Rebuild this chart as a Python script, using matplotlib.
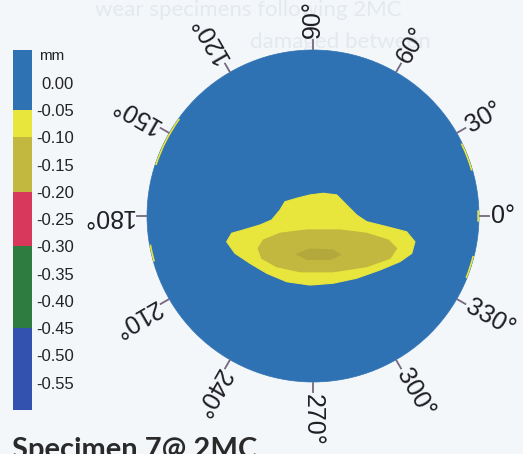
import numpy as np
import matplotlib
matplotlib.use("Agg")
import matplotlib.pyplot as plt
from matplotlib.patches import Circle, Polygon, Wedge
from matplotlib.colors import ListedColormap, BoundaryNorm
from matplotlib.cm import ScalarMappable

# ---- depth scale (mm) ----
level_bounds = [-0.60, -0.45, -0.30, -0.20, -0.10, -0.05, 0.06]
level_colors = ["#3351ae", "#2f7c40", "#d7385c", "#c3b83f", "#e8e53d", "#2f72b3"]
tick_values = [0.00, -0.05, -0.10, -0.15, -0.20, -0.25, -0.30,
               -0.35, -0.40, -0.45, -0.50, -0.55]
tick_labels = ["0.00", "-0.05", "-0.10", "-0.15", "-0.20", "-0.25", "-0.30",
               "-0.35", "-0.40", "-0.45", "-0.50", "-0.55"]

# ---- angular positions around the specimen (deg) ----
angles = [0, 30, 60, 90, 120, 150, 180, 210, 240, 270, 300, 330]

# ---- wear-scar outlines, x / y in specimen radii ----
# -0.05 mm contour
scar_x = [-0.520, -0.490, -0.420, -0.319, -0.249, -0.199, -0.169, -0.098,
          -0.018, 0.062, 0.143, 0.203, 0.263, 0.323, 0.444, 0.564, 0.614,
          0.595, 0.524, 0.404, 0.263, 0.122, -0.018, -0.158, -0.279,
          -0.380, -0.470]
scar_y = [-0.155, -0.104, -0.084, -0.054, -0.024, 0.036, 0.086, 0.107,
          0.127, 0.137, 0.127, 0.066, 0.006, -0.034, -0.064, -0.095, -0.155,
          -0.225, -0.275, -0.325, -0.375, -0.405, -0.416, -0.396, -0.345,
          -0.285, -0.225]
scar_depth = -0.07

# -0.10 mm contour
core_x = [-0.330, -0.299, -0.199, -0.038, 0.163, 0.323, 0.454, 0.504,
          0.464, 0.323, 0.122, -0.078, -0.219, -0.309]
core_y = [-0.195, -0.145, -0.104, -0.084, -0.084, -0.104, -0.145, -0.195,
          -0.255, -0.305, -0.336, -0.336, -0.305, -0.255]
core_depth = -0.15

# deepest spot inside the core
deep_x = [-0.108, -0.018, 0.122, 0.173, 0.102, -0.038]
deep_y = [-0.229, -0.195, -0.201, -0.235, -0.265, -0.265]
deep_depth = -0.18

surface_depth = 0.0

# thin rim slivers in the -0.05 mm band (start, end angle in deg)
rim_start = [144, 190, 16, -22, -2]
rim_end = [162, 196, 26, -14, 2]
rim_depth = -0.07

# ---- figure ----
W, H = 523, 454
fig = plt.figure(figsize=(W / 100, H / 100), dpi=100)
fig.patch.set_facecolor("#f4f7fa")

# faint show-through text of the page behind
bg = fig.add_axes([0, 0, 1, 1])
bg.set_xlim(0, W)
bg.set_ylim(H, 0)
bg.axis("off")
ghost = [(95, 10, "wear specimens following 2MC"),
         (250, 42, "damaged between")]
for gx, gy, gt in ghost:
    bg.text(gx, gy, gt, fontsize=16, color="#e4e9ef", va="center",
            ha="left", family="Lato", zorder=0)

cmap = ListedColormap(level_colors)
norm = BoundaryNorm(level_bounds, cmap.N)

# ---- polar wear map ----
cx, cy, R = 313, 216, 166
span = 1.32
ax = fig.add_axes([(cx - span * R) / W, (H - cy - span * R) / H,
                   2 * span * R / W, 2 * span * R / H])
ax.set_xlim(-span, span)
ax.set_ylim(-span, span)
ax.axis("off")

c_surf = cmap(norm(surface_depth))
ax.add_patch(Circle((0, 0), 1.0, facecolor=c_surf, edgecolor=c_surf, lw=0.5, zorder=1))

for a0, a1 in zip(rim_start, rim_end):
    c = cmap(norm(rim_depth))
    ax.add_patch(Wedge((0, 0), 1.0, a0, a1, width=0.01, facecolor=c,
                       edgecolor="none", zorder=2))

c_scar = cmap(norm(scar_depth))
ax.add_patch(Polygon(list(zip(scar_x, scar_y)), closed=True, facecolor=c_scar,
                     edgecolor=c_scar, lw=0.8, zorder=3))
c_core = cmap(norm(core_depth))
ax.add_patch(Polygon(list(zip(core_x, core_y)), closed=True, facecolor=c_core,
                     edgecolor=c_core, lw=0.8, zorder=4))
c_deep = cmap(norm(deep_depth))
ax.add_patch(Polygon(list(zip(deep_x, deep_y)), closed=True, facecolor=c_deep,
                     edgecolor="none", zorder=5))
ax.add_patch(Polygon(list(zip(deep_x, deep_y)), closed=True, facecolor="#5a5030",
                     alpha=0.15, edgecolor="none", zorder=6))

# angle ticks and labels
for a in angles:
    t = np.deg2rad(a)
    ax.plot([1.005 * np.cos(t), 1.06 * np.cos(t)],
            [1.005 * np.sin(t), 1.06 * np.sin(t)],
            color="#75687f", lw=1.3, zorder=7, clip_on=False)
    ax.text(1.075 * np.cos(t), 1.075 * np.sin(t), f"{a}°", rotation=a,
            rotation_mode="anchor", ha="left", va="center", fontsize=18,
            family="Liberation Sans", color="#1e1e24", zorder=8, clip_on=False)

# ---- colour bar ----
cax = fig.add_axes([13 / W, (H - 410) / H, 19 / W, 360 / H])
sm = ScalarMappable(norm=norm, cmap=cmap)
cb = fig.colorbar(sm, cax=cax, boundaries=level_bounds, spacing="proportional")
cb.outline.set_visible(False)
cb.set_ticks(tick_values, labels=tick_labels)
cb.minorticks_off()
cax.tick_params(axis="y", which="both", length=0, pad=30, labelsize=12,
                labelcolor="#222222")
for lab in cax.get_yticklabels():
    lab.set_ha("right")
    lab.set_family("Liberation Sans")
fig.text(39 / W, (H - 56) / H, "mm", fontsize=11, family="Liberation Sans",
         color="#222222", ha="left", va="center")

# ---- caption ----
fig.text(12 / W, (H - 458) / H, "Specimen 7@ 2MC", fontsize=21, fontweight="bold",
         family="Lato", color="#2a2a2a", ha="left", va="baseline")

fig.savefig("out.png", dpi=100, facecolor=fig.get_facecolor())
